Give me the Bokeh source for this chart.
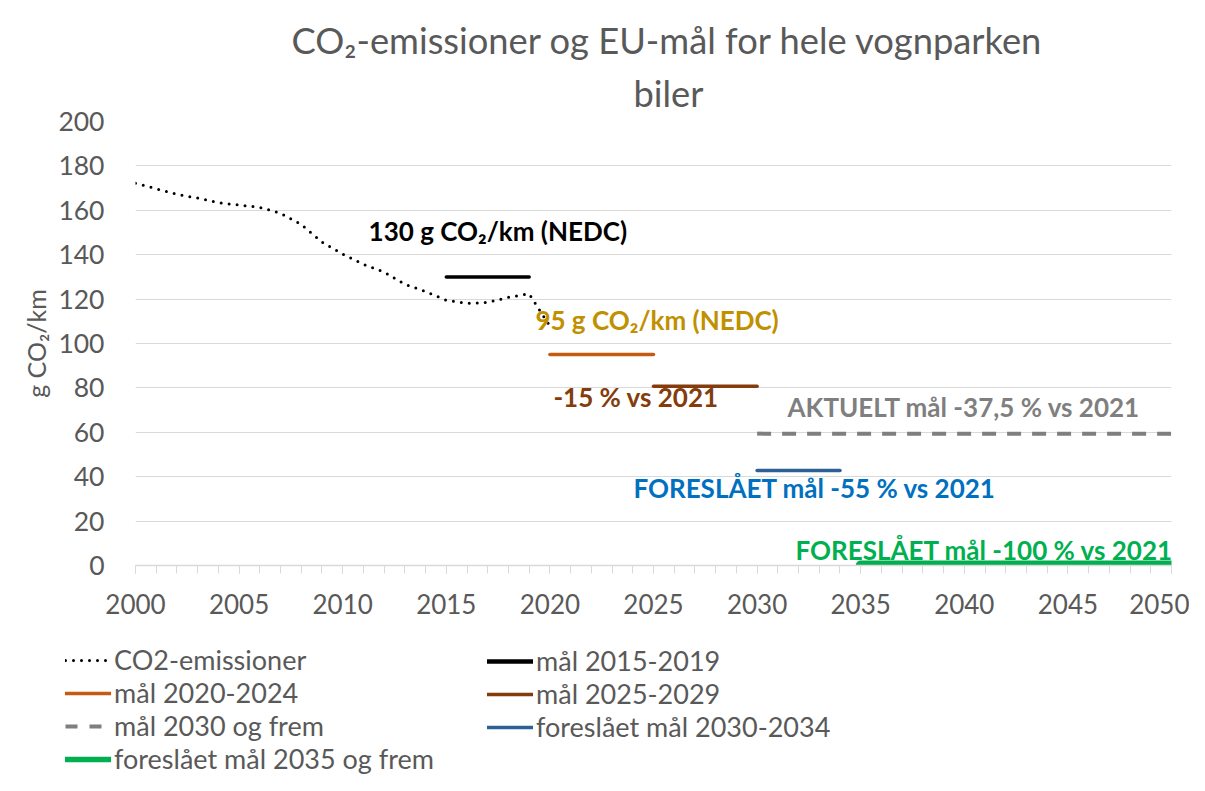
from bokeh.plotting import figure
from bokeh.models import Legend, LegendItem, Label, FixedTicker, Title
from bokeh.layouts import column
from bokeh.embed import file_html
from bokeh.resources import INLINE

# ---------------- data ----------------
years = list(range(2000, 2021))
co2 = [172.2, 169.7, 167.2, 165.5, 163.4, 162.4, 161.3, 158.7, 153.6, 145.7,
       140.3, 135.7, 132.2, 126.7, 123.4, 119.5, 118.1, 118.5, 120.8, 122.4, 107.8]

target_names = ["mål 2015-2019", "mål 2020-2024", "mål 2025-2029",
                "mål 2030 og frem", "foreslået mål 2030-2034", "foreslået mål 2035 og frem"]
target_start = [2015, 2020, 2025, 2030, 2030, 2035]
target_end = [2019, 2025, 2030, 2050, 2034, 2050]
target_values = [130, 95, 80.75, 59.4, 42.75, 0]

x_ticks = list(range(2000, 2051, 5))
minor_x_ticks = list(range(2000, 2051, 1))
y_ticks = list(range(0, 201, 20))

note_texts = ["130 g CO₂/km (NEDC)", "95 g CO₂/km (NEDC)", "-15 % vs 2021",
              "AKTUELT mål -37,5 % vs 2021", "FORESLÅET mål -55 % vs 2021",
              "FORESLÅET mål -100 % vs 2021"]

title_lines = ["CO₂-emissioner og EU-mål for hele vognparken", "biler"]
co2_label = "CO2-emissioner"

# ---------------- styles ----------------
FONT = "Lato"
GREY_TXT = "#595959"
GRID = "#D9D9D9"
co2_style = dict(line_color="black", line_width=3, line_dash="0 8",
                 line_cap="round", line_join="round")
line_styles = [
    dict(line_color="#000000", line_width=3.5),
    dict(line_color="#C55A11", line_width=3.5),
    dict(line_color="#843C0C", line_width=3.5),
    dict(line_color="#7F7F7F", line_width=4, line_dash="14 11"),
    dict(line_color="#2E6096", line_width=3.5),
    dict(line_color="#00B050", line_width=10),   # half hidden below frame edge
]
legend_styles = [dict(st) for st in line_styles]
legend_styles[0]["line_width"] = 4.5
legend_styles[5]["line_width"] = 5.5
legend_styles[3]["line_dash"] = "12 12"

note_pos = [(2011.25, 150.5), (2019.3, 110.4), (2020.17, 75.7),
            (2031.47, 71.2), (2024.03, 35.1), (2031.85, 7.2)]
note_colors = ["#000000", "#BF9000", "#843C0C", "#7F7F7F", "#0070C0", "#00B050"]

W = 1189
H_MAIN = 640
H_LEG = 135

p = figure(width=W, height=H_MAIN, x_range=(2000, 2050), y_range=(0, 200),
           output_backend="svg", toolbar_location=None,
           min_border_left=135, min_border_right=18,
           min_border_top=121, min_border_bottom=75)
p.frame_align = False
p.outline_line_color = None
p.background_fill_color = "white"
p.border_fill_color = "white"

# grid
p.xgrid.grid_line_color = None
p.ygrid.grid_line_color = GRID
p.ygrid.grid_line_width = 1
p.ygrid.ticker = FixedTicker(ticks=y_ticks)

# x axis
p.xaxis.ticker = FixedTicker(ticks=x_ticks, minor_ticks=minor_x_ticks)
p.xaxis.axis_line_color = GRID
p.xaxis.axis_line_width = 1.5
p.xaxis.major_tick_line_color = GRID
p.xaxis.minor_tick_line_color = GRID
p.xaxis.major_tick_in = 0
p.xaxis.major_tick_out = 8
p.xaxis.minor_tick_in = 0
p.xaxis.minor_tick_out = 8
p.xaxis.major_label_text_font = FONT
p.xaxis.major_label_text_font_size = "26px"
p.xaxis.major_label_text_color = GREY_TXT
p.xaxis.major_label_standoff = 20

# y axis
p.yaxis.ticker = FixedTicker(ticks=y_ticks)
p.yaxis.axis_line_color = None
p.yaxis.major_tick_line_color = None
p.yaxis.minor_tick_line_color = None
p.yaxis.major_label_text_font = FONT
p.yaxis.major_label_text_font_size = "26.5px"
p.yaxis.major_label_text_color = GREY_TXT
p.yaxis.major_label_standoff = 25
p.yaxis.axis_label = "g CO₂/km"
p.yaxis.axis_label_text_font = FONT
p.yaxis.axis_label_text_font_size = "25px"
p.yaxis.axis_label_text_font_style = "normal"
p.yaxis.axis_label_text_color = GREY_TXT
p.yaxis.axis_label_standoff = 4

# series
p.line(years, co2, **co2_style)
for s, e, v, st in zip(target_start, target_end, target_values, line_styles):
    cap = "butt" if "line_dash" in st else "round"
    p.line([s, e], [v, v], line_cap=cap, **st)

# annotations
for t, (x, y), c in zip(note_texts, note_pos, note_colors):
    p.add_layout(Label(x=x, y=y, text=t, text_color=c, text_font=FONT,
                       text_font_size="26px", text_font_style="bold",
                       text_align="left", text_baseline="middle"))

# title (two lines): p.title is outermost, added Title sits nearer the frame
p.title.text = title_lines[0]
p.title.align = "left"
p.title.offset = 156
p.title.text_font = FONT
p.title.text_font_size = "36.3px"
p.title.text_font_style = "normal"
p.title.text_color = GREY_TXT
p.title.standoff = 1
t2 = Title(text=title_lines[1], align="left", offset=498, text_font=FONT,
           text_font_size="36.3px", text_font_style="normal", text_color=GREY_TXT,
           standoff=13)
p.add_layout(t2, "above")

# ---------------- legend figure ----------------
pl = figure(width=W, height=H_LEG, x_range=(0, W), y_range=(0, H_LEG),
            output_backend="svg", toolbar_location=None,
            x_axis_location=None, y_axis_location=None,
            min_border_left=0, min_border_right=0, min_border_top=0, min_border_bottom=0)
pl.frame_align = False
pl.outline_line_color = None
pl.xgrid.grid_line_color = None
pl.ygrid.grid_line_color = None
pl.border_fill_color = "white"

# proxy renderers (points outside the visible range) that only feed the legend
hid_x = [-100, -90]
hid_y = [-100, -100]
proxy_co2 = pl.line(hid_x, hid_y, **co2_style)
proxies = []
for st in legend_styles:
    cap = "butt" if "line_dash" in st else "round"
    proxies.append(pl.line(hid_x, hid_y, line_cap=cap, **st))

leg_common = dict(orientation="vertical", padding=0, margin=0, spacing=0,
                  glyph_width=46, glyph_height=20, label_height=32,
                  label_standoff=3, label_text_font=FONT, label_text_font_size="27px",
                  label_text_color=GREY_TXT, background_fill_alpha=0,
                  border_line_color=None)
col1 = [(co2_label, proxy_co2), (target_names[1], proxies[1]),
        (target_names[3], proxies[3]), (target_names[5], proxies[5])]
col2 = [(target_names[0], proxies[0]), (target_names[2], proxies[2]),
        (target_names[4], proxies[4])]
leg1 = Legend(items=[LegendItem(label=n, renderers=[r]) for n, r in col1],
              location=(65, 0), **leg_common)
leg2 = Legend(items=[LegendItem(label=n, renderers=[r]) for n, r in col2],
              location=(487, 32), **leg_common)
pl.add_layout(leg1, "center")
pl.add_layout(leg2, "center")

open("out.html", "w").write(file_html(column(p, pl, spacing=0), INLINE))
